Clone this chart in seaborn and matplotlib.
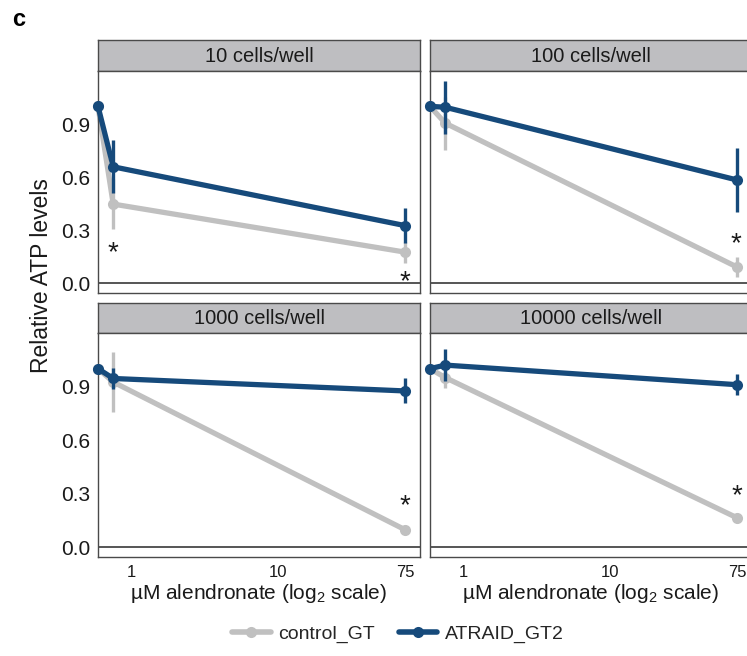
import numpy as np
import pandas as pd
import matplotlib
matplotlib.use("Agg")
import matplotlib.pyplot as plt
from matplotlib.lines import Line2D
import seaborn as sns

# ---------------- data ----------------
panels = ["10 cells/well", "100 cells/well", "1000 cells/well", "10000 cells/well"]
genotypes = ["control_GT", "ATRAID_GT2"]
doses = [0.59, 0.75, 75]

control_mean = {
    "10 cells/well": [1.0, 0.447, 0.175],
    "100 cells/well": [1.0, 0.905, 0.09],
    "1000 cells/well": [1.0, 0.925, 0.096],
    "10000 cells/well": [1.0, 0.95, 0.163],
}
control_sd = {
    "10 cells/well": [0.0, 0.14, 0.06],
    "100 cells/well": [0.0, 0.15, 0.055],
    "1000 cells/well": [0.0, 0.17, 0.02],
    "10000 cells/well": [0.0, 0.06, 0.015],
}
atraid_mean = {
    "10 cells/well": [1.0, 0.658, 0.325],
    "100 cells/well": [1.0, 0.995, 0.583],
    "1000 cells/well": [1.0, 0.945, 0.875],
    "10000 cells/well": [1.0, 1.02, 0.91],
}
atraid_sd = {
    "10 cells/well": [0.0, 0.15, 0.1],
    "100 cells/well": [0.0, 0.15, 0.18],
    "1000 cells/well": [0.0, 0.06, 0.07],
    "10000 cells/well": [0.0, 0.09, 0.06],
}
# significance stars: (dose, y)
stars = {
    "10 cells/well": [(0.75, 0.215), (75, 0.05)],
    "100 cells/well": [(73, 0.266)],
    "1000 cells/well": [(75, 0.276)],
    "10000 cells/well": [(75, 0.33)],
}
y_ticks = [0.0, 0.3, 0.6, 0.9]
x_ticks = [1, 10, 75]
x_ticklabels = ["1", "10", "75"]

rows = []
for p in panels:
    for i, d in enumerate(doses):
        rows.append(dict(panel=p, dose=d, genotype="control_GT",
                         mean=control_mean[p][i], sd=control_sd[p][i]))
        rows.append(dict(panel=p, dose=d, genotype="ATRAID_GT2",
                         mean=atraid_mean[p][i], sd=atraid_sd[p][i]))
df = pd.DataFrame(rows)

# ---------------- style ----------------
sns.set_style("white")
plt.rcParams["font.family"] = ["Liberation Sans", "DejaVu Sans"]
plt.rcParams["mathtext.fontset"] = "custom"
plt.rcParams["mathtext.rm"] = "Liberation Sans"
plt.rcParams["mathtext.it"] = "Liberation Sans:italic"

palette = {"control_GT": "#c0c0c0", "ATRAID_GT2": "#164a7b"}
edge = "#4a4a4a"
W, H = 747, 656
fig = plt.figure(figsize=(W / 100, H / 100), dpi=100)


def rect(x0, y0, x1, y1):
    return [x0 / W, 1 - y1 / H, (x1 - x0) / W, (y1 - y0) / H]


cols = [(98, 420), (430, 752)]
rows_px = [((40, 71), (71, 293)), ((303, 333), (333, 557))]

for idx, p in enumerate(panels):
    r, c = divmod(idx, 2)
    x0, x1 = cols[c]
    (s0, s1), (p0, p1) = rows_px[r]

    # strip
    sax = fig.add_axes(rect(x0, s0, x1, s1))
    sax.set_facecolor("#bebec1")
    sax.set_xticks([]); sax.set_yticks([])
    for sp in sax.spines.values():
        sp.set_color(edge); sp.set_linewidth(1.0); sp.set_visible(True)
    sax.text(0.5, 0.47, p, ha="center", va="center", fontsize=14.5,
             color="#1a1a1a", transform=sax.transAxes)

    ax = fig.add_axes(rect(x0, p0, x1, p1))
    sub = df[df.panel == p]
    ax.set_xscale("log", base=2)
    ax.axhline(0, color="#555555", lw=1.4, zorder=1)

    for k, g in enumerate(genotypes):
        gs = sub[sub.genotype == g]
        sns.lineplot(data=gs, x="dose", y="mean", color=palette[g],
                     marker="o", markersize=8, markeredgewidth=0,
                     linewidth=3.8, estimator=None, legend=False, ax=ax,
                     zorder=2 + 2 * k, clip_on=False)
        ax.errorbar(gs["dose"], gs["mean"], yerr=gs["sd"], fmt="none",
                    ecolor=palette[g], elinewidth=2.4, capsize=0,
                    zorder=3 + 2 * k, clip_on=False)

    for (sx, sy) in stars[p]:
        ax.annotate("*", xy=(sx, sy), xytext=(0, -11), textcoords="offset points",
                    ha="center", va="baseline", fontsize=20, color="#1a1a1a",
                    zorder=10)

    ax.set_xlim(0.59, 94.5)
    ax.set_ylim(-0.056, 1.2)
    ax.set_xlabel(""); ax.set_ylabel("")
    ax.minorticks_off()
    for sp in ax.spines.values():
        sp.set_color(edge); sp.set_linewidth(1.0); sp.set_visible(True)

    ax.set_yticks(y_ticks)
    ax.set_xticks(x_ticks)
    ax.tick_params(axis="both", which="both", length=3.5, width=0.9,
                   color="#333333", direction="out", pad=2)
    if c == 0:
        ax.set_yticklabels([f"{v:.1f}" for v in y_ticks], fontsize=15,
                           color="#1a1a1a")
    else:
        ax.tick_params(axis="y", left=False, labelleft=False)
    if r == 1:
        ax.set_xticklabels(x_ticklabels, fontsize=12, color="#1a1a1a")
        ax.set_xlabel(r"µM alendronate (log$_\mathrm{2}$ scale)", fontsize=15,
                      color="#1a1a1a", labelpad=2)
    else:
        ax.tick_params(axis="x", bottom=False, labelbottom=False)

fig.text(42 / W, 1 - 276 / H, "Relative ATP levels", rotation=90,
         ha="center", va="center", fontsize=16.5, color="#1a1a1a")
fig.text(12 / W, 1 - 20 / H, "c", ha="left", va="center", fontsize=17,
         fontweight="bold", color="black")

handles = [Line2D([0], [0], color=palette[g], lw=4, marker="o", markersize=8,
                  markeredgewidth=0) for g in genotypes]
fig.legend(handles, genotypes, loc="center", bbox_to_anchor=(398 / W, 1 - 634 / H),
           ncol=2, frameon=False, fontsize=14, handlelength=2.0,
           columnspacing=1.2, handletextpad=0.4)

fig.savefig("out.png", dpi=100)
